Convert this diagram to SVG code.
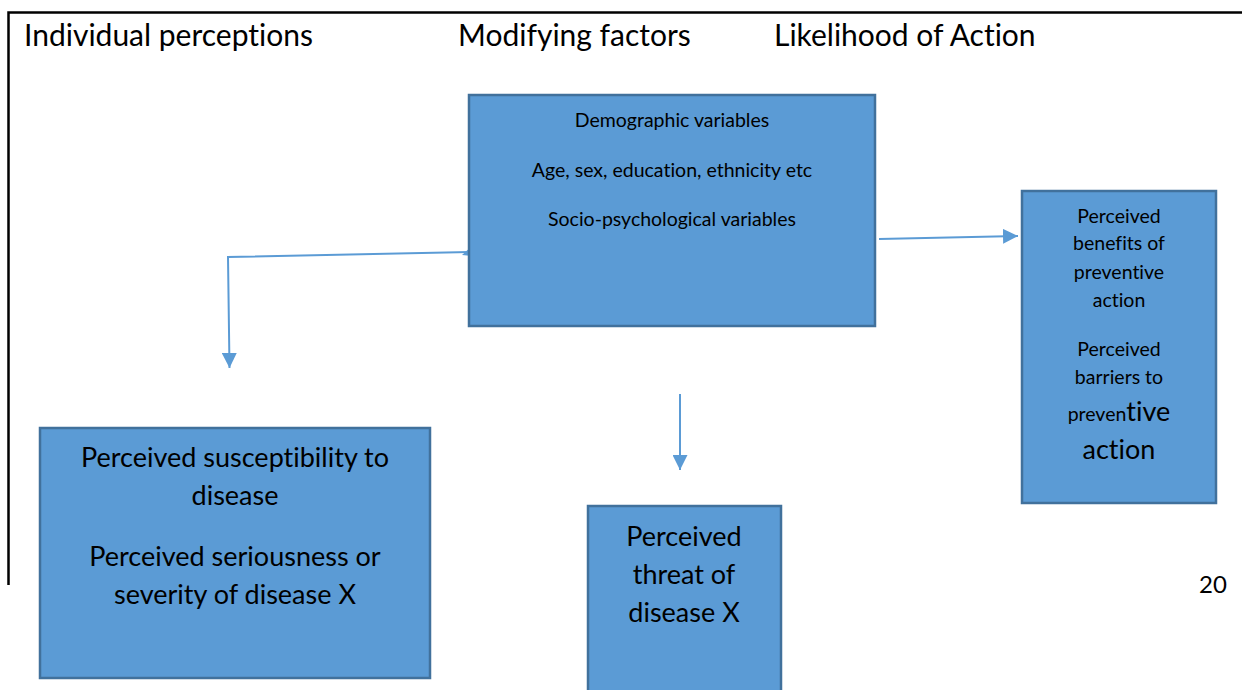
<svg xmlns="http://www.w3.org/2000/svg" width="1242" height="690" viewBox="0 0 1242 690">
<defs>
<style>
text{font-variant-ligatures:none;font-feature-settings:"liga" 0}
.box{fill:#5B9BD5;stroke:#41719C;stroke-width:2.5}
.t{font-family:Lato,"Open Sans","Liberation Sans",sans-serif;fill:#000;text-anchor:middle}
.h{font-family:Lato,"Open Sans","Liberation Sans",sans-serif;fill:#000;font-size:30px}
.s{font-size:19.5px}
.l{font-size:27px}
.c{fill:none;stroke:#5B9BD5;stroke-width:2}
</style>
<marker id="ah" viewBox="0 0 10 10" refX="10" refY="5" markerWidth="7.5" markerHeight="7.5" orient="auto" markerUnits="strokeWidth">
<path d="M0,0 L10,5 L0,10 Z" fill="#5B9BD5"/>
</marker>
</defs>
<rect width="1242" height="690" fill="#fff"/>
<g id="page-border">
<path d="M8.5,585 V12.5 H1242" fill="none" stroke="#000" stroke-width="2.5"/>
</g>
<g id="headers">
<text class="h" x="24" y="46">Individual perceptions</text>
<text class="h" x="458" y="46">Modifying factors</text>
<text class="h" x="774" y="46">Likelihood of Action</text>
</g>
<g id="connectors">
<path class="c" d="M470,252 L228,257 L229.5,368" marker-end="url(#ah)"/>
<path d="M462,255 L472,246 L472,256 Z" fill="#5B9BD5"/>
<path class="c" d="M879,239 L1018,236" marker-end="url(#ah)"/>
<path class="c" d="M680,394 L680,470" marker-end="url(#ah)"/>
</g>
<g id="modifying-factors">
<rect class="box" x="469" y="95" width="406" height="231"/>
<text class="t s" x="672" y="127">Demographic variables</text>
<text class="t s" x="672" y="177">Age, sex, education, ethnicity etc</text>
<text class="t s" x="672" y="226">Socio-psychological variables</text>
</g>
<g id="likelihood">
<rect class="box" x="1022" y="191" width="194" height="312"/>
<text class="t s" x="1119" y="223">Perceived</text>
<text class="t s" x="1119" y="250">benefits of</text>
<text class="t s" x="1119" y="279">preventive</text>
<text class="t s" x="1119" y="307">action</text>
<text class="t s" x="1119" y="356">Perceived</text>
<text class="t s" x="1119" y="384">barriers to</text>
<text class="t" x="1119" y="421"><tspan class="s">preven</tspan><tspan class="l">tive</tspan></text>
<text class="t l" x="1119" y="459">action</text>
</g>
<g id="individual-perceptions">
<rect class="box" x="40" y="428" width="390" height="250"/>
<text class="t l" x="235" y="467">Perceived susceptibility to</text>
<text class="t l" x="235" y="505">disease</text>
<text class="t l" x="235" y="566">Perceived seriousness or</text>
<text class="t l" x="235" y="604">severity of disease X</text>
</g>
<g id="perceived-threat">
<rect class="box" x="588" y="506" width="193" height="190"/>
<text class="t l" x="684" y="546">Perceived</text>
<text class="t l" x="684" y="584">threat of</text>
<text class="t l" x="684" y="622">disease X</text>
</g>
<g id="page-number">
<text class="t" x="1213" y="593" style="font-size:24px">20</text>
</g>
</svg>
